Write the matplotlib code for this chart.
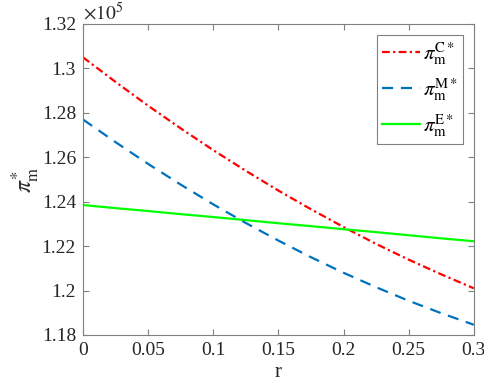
import numpy as np
import matplotlib
matplotlib.use('Agg')
import matplotlib.pyplot as plt
from matplotlib.ticker import FuncFormatter

# Profit values (units of 1e5)
r = [0, 0.025, 0.05, 0.075, 0.1, 0.125, 0.15, 0.175, 0.2, 0.225, 0.25, 0.275, 0.3]
pi_C = [1.3050, 1.2939, 1.2832, 1.2730, 1.2632, 1.2539, 1.2450, 1.2366,
        1.2286, 1.2210, 1.2139, 1.2073, 1.2010]
pi_M = [1.2770, 1.2668, 1.2570, 1.2477, 1.2388, 1.2304, 1.2225, 1.2150,
        1.2080, 1.2015, 1.1954, 1.1898, 1.1846]
pi_E = [1.2385, 1.2371, 1.2358, 1.2344, 1.2331, 1.2317, 1.2303, 1.2290,
        1.2276, 1.2263, 1.2249, 1.2235, 1.2222]

xticks = [0, 0.05, 0.1, 0.15, 0.2, 0.25, 0.3]
yticks = [1.18, 1.2, 1.22, 1.24, 1.26, 1.28, 1.3, 1.32]

plt.rcParams['font.family'] = 'serif'
plt.rcParams['font.serif'] = ['Liberation Serif', 'DejaVu Serif']
plt.rcParams['mathtext.fontset'] = 'stix'

fig = plt.figure(figsize=(4.84, 3.87), dpi=100)
ax = fig.add_axes([0.1715, 0.1344, 0.979 - 0.1715, 0.938 - 0.1344])

ax.plot(r, pi_C, color='#ff0000', linestyle=(0, (3.5, 1.5, 1, 1.5)), linewidth=1.6,
        label=r'$\pi_{\mathrm{m}}^{\mathrm{C*}}$')
ax.plot(r, pi_M, color='#0072bd', linestyle=(0, (5, 3.5)), linewidth=1.6,
        label=r'$\pi_{\mathrm{m}}^{\mathrm{M*}}$')
ax.plot(r, pi_E, color='#00ff00', linestyle='-', linewidth=1.6,
        label=r'$\pi_{\mathrm{m}}^{\mathrm{E*}}$')

ax.set_xlim(0, 0.3)
ax.set_ylim(1.18, 1.32)
ax.set_xticks(xticks)
ax.set_yticks(yticks)
fmt = FuncFormatter(lambda v, p: '%g' % round(v, 4))
ax.xaxis.set_major_formatter(fmt)
ax.yaxis.set_major_formatter(fmt)

axcol = '#808080'
for s in ax.spines.values():
    s.set_color(axcol)
    s.set_linewidth(0.8)
ax.tick_params(direction='in', top=True, right=True, color=axcol, length=4,
               labelsize=14, labelcolor='#262626', pad=5)

ax.set_xlabel('r', fontsize=15, color='#262626', labelpad=3)
ax.set_ylabel(r'$\pi_{\mathrm{m}}^{*}$', fontsize=17, color='#262626', labelpad=0)
ax.text(0.0, 1.0, r'$\times10^{5}$', transform=ax.transAxes, fontsize=14,
        color='#262626', ha='left', va='bottom')

leg = ax.legend(loc='upper right', bbox_to_anchor=(0.972, 0.965), fontsize=15,
                fancybox=False, framealpha=1, handlelength=1.85,
                handletextpad=0.1, borderpad=0.25, labelspacing=0.45,
                borderaxespad=0)
leg.get_frame().set_edgecolor(axcol)
leg.get_frame().set_linewidth(0.8)

fig.savefig('out.png', dpi=100)
